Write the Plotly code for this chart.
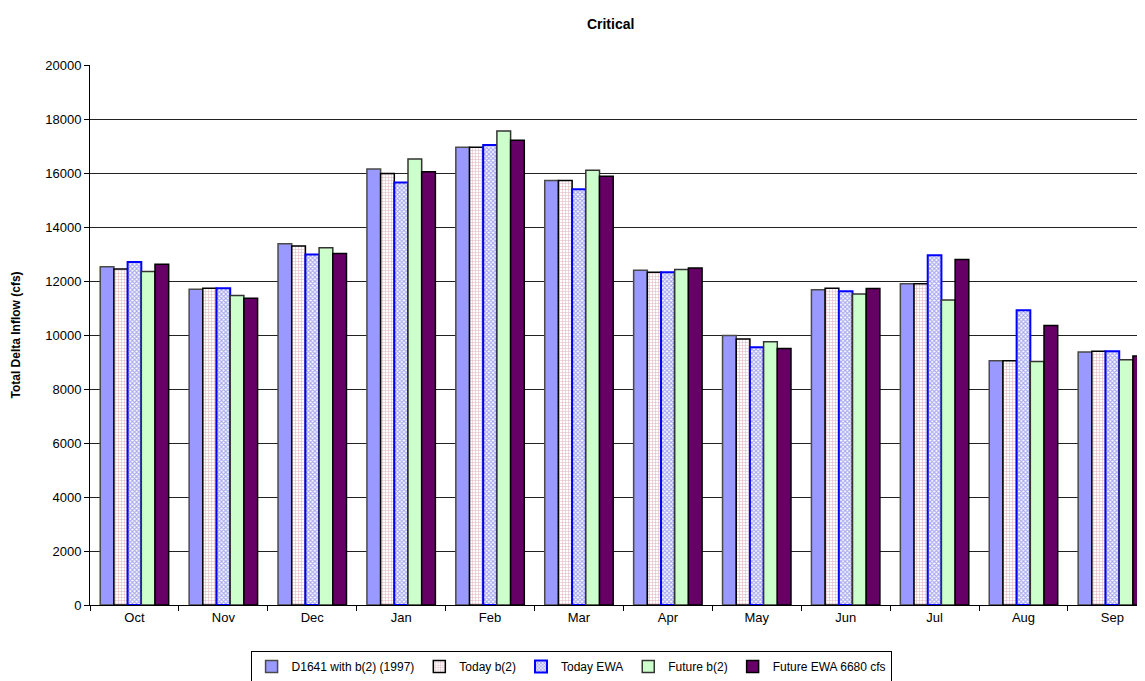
import plotly.graph_objects as go

months = ['Oct', 'Nov', 'Dec', 'Jan', 'Feb', 'Mar', 'Apr', 'May', 'Jun', 'Jul', 'Aug', 'Sep']

d1641_b2 = [12530, 11690, 13380, 16150, 16950, 15720, 12400, 9980, 11680, 11900, 9050, 9370]
today_b2 = [12440, 11730, 13300, 15980, 16950, 15720, 12320, 9850, 11730, 11900, 9050, 9400]
today_ewa = [12700, 11730, 12980, 15650, 17040, 15400, 12320, 9550, 11620, 12950, 10920, 9400]
future_b2 = [12350, 11460, 13230, 16520, 17560, 16100, 12430, 9750, 11520, 11300, 9020, 9080]
future_ewa = [12620, 11360, 13020, 16050, 17210, 15880, 12480, 9500, 11720, 12800, 10350, 9220]

y_ticks = [0, 2000, 4000, 6000, 8000, 10000, 12000, 14000, 16000, 18000, 20000]

fig = go.Figure()

# D1641 with b(2) (1997): plain lavender bars
fig.add_trace(go.Bar(
    x=months, y=d1641_b2, name='D1641 with b(2) (1997)',
    marker=dict(color='#9999FF', line=dict(color='#4a4a4a', width=1.5))
))
# Today b(2): white with pink grid
fig.add_trace(go.Bar(
    x=months, y=today_b2, name='Today b(2)',
    marker=dict(color='white', line=dict(color='#000000', width=1.5),
                pattern=dict(shape='+', fgcolor='#C07088', bgcolor='white', size=3, solidity=0.35))
))
# Today EWA: blue checker with blue border
fig.add_trace(go.Bar(
    x=months, y=today_ewa, name='Today EWA',
    marker=dict(color='white', line=dict(color='#0000FF', width=2),
                pattern=dict(shape='x', fgcolor='#5050E0', bgcolor='white', size=3, solidity=0.6))
))
# Future b(2): pale green
fig.add_trace(go.Bar(
    x=months, y=future_b2, name='Future b(2)',
    marker=dict(color='#CCFFCC', line=dict(color='#333333', width=1.5))
))
# Future EWA 6680 cfs: dark purple
fig.add_trace(go.Bar(
    x=months, y=future_ewa, name='Future EWA 6680 cfs',
    marker=dict(color='#660066', line=dict(color='#000000', width=1.5))
))

# the page puts the figure 8px in from the top-left, so size and margins allow for that.
# The original chart runs past the right edge, so the x range stops short of the last category.
fig.update_layout(
    width=1137,
    height=673,
    barmode='group',
    bargap=0.23,
    bargroupgap=0,
    plot_bgcolor='white',
    paper_bgcolor='white',
    font=dict(family='Liberation Sans, Arial, sans-serif', size=13, color='black'),
    title=dict(
        text='<b>Critical</b>',
        x=0.530,
        xanchor='center',
        y=0.976,
        yanchor='middle',
        font=dict(size=14)
    ),
    margin={'t': 57, 'b': 76, 'l': 82, 'r': 0, 'autoexpand': False},
    legend=dict(
        orientation='h',
        x=0.456,
        xanchor='center',
        y=-0.085,
        yanchor='top',
        bordercolor='black',
        borderwidth=1,
        font=dict(size=12),
        itemwidth=30,
        tracegroupgap=0
    ),
    showlegend=True
)

fig.update_xaxes(
    range=[-0.5, 11.367],
    showline=True,
    linecolor='black',
    linewidth=1,
    ticks='outside',
    tickson='boundaries',
    ticklen=5,
    tickcolor='black',
    showgrid=False,
    automargin=False
)
fig.update_yaxes(
    range=[0, 20000],
    tickvals=y_ticks,
    tickformat='d',
    ticks='outside',
    ticklen=5,
    tickcolor='black',
    showline=True,
    linecolor='black',
    linewidth=1,
    showgrid=True,
    gridcolor='#222222',
    gridwidth=1,
    zeroline=False,
    automargin=False,
    title=dict(text='<b>Total Delta Inflow (cfs)</b>', font=dict(size=12), standoff=22)
)

fig.write_html('out.html')
